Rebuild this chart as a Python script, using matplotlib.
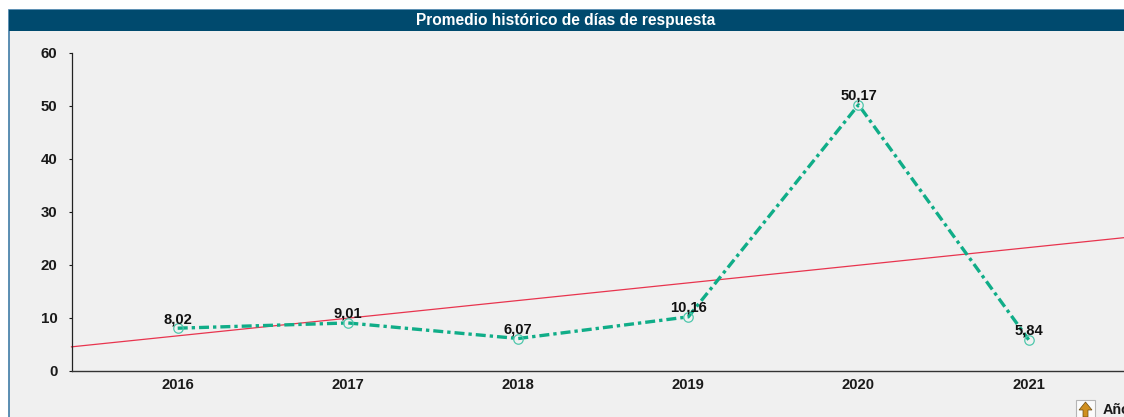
import matplotlib.pyplot as plt
from matplotlib.patches import Rectangle, Polygon

years = [2016, 2017, 2018, 2019, 2020, 2021]
dias = [8.02, 9.01, 6.07, 10.16, 50.17, 5.84]
etiquetas = ['8,02', '9,01', '6,07', '10,16', '50,17', '5,84']
y_ticks = [0, 10, 20, 30, 40, 50, 60]

trend_x = [2015.376, 2021.56]
trend_y = [4.5, 25.1]

W, H = 1124, 417
plt.rcParams['font.family'] = ['Liberation Sans', 'DejaVu Sans']

fig = plt.figure(figsize=(W / 100, H / 100), dpi=100, facecolor='white')


def px_rect(x0, y0, x1, y1, **kw):
    # rectangulo en pixeles de la imagen, y hacia abajo
    fig.patches.append(Rectangle((x0 / W, 1 - y1 / H), (x1 - x0) / W, (y1 - y0) / H,
                                 transform=fig.transFigure, **kw))


# panel y cabecera
px_rect(9, 10, W + 5, H + 5, facecolor='#f0f0f0', edgecolor='#3f7ba6', linewidth=1.2)
px_rect(9, 10, W + 5, 31, facecolor='#004a6e', edgecolor='none')
fig.text(566 / W, 1 - 20.5 / H, 'Promedio histórico de días de respuesta', color='white',
         fontsize=11.2, fontweight='bold', ha='center', va='center')

# ejes: x de 71.5 a 1124, y de 370.7 (0) a 52.7 (60)
ax = fig.add_axes([71.5 / W, 1 - 370.7 / H, (W - 71.5) / W, (370.7 - 52.7) / H])
ax.set_zorder(5)
ax.patch.set_alpha(0)
ax.set_xlim(2015.376, 2021.56)
ax.set_ylim(0, 60)
ax.spines['top'].set_visible(False)
ax.spines['right'].set_visible(False)
ax.spines['left'].set_color('#222222')
ax.spines['bottom'].set_color('#333333')
ax.spines['left'].set_linewidth(0.9)
ax.spines['bottom'].set_linewidth(1.0)

ax.set_xticks(years)
ax.set_yticks(y_ticks)
ax.tick_params(axis='x', length=0, pad=5.5, labelsize=10.6, colors='#1a1a1a')
ax.tick_params(axis='y', length=2.5, width=0.8, pad=7.5, labelsize=10.8, colors='#1a1a1a')
for lab in ax.get_xticklabels() + ax.get_yticklabels():
    lab.set_fontweight('bold')

ax.plot(trend_x, trend_y, color='#e8344e', lw=0.9, zorder=2, clip_on=False)
ax.plot(years, dias, color='#10ad88', lw=2.4, ls=(0, (3, 1.2, 1, 1.2)), zorder=3)
ax.plot(years, dias, ls='none', marker='o', ms=6.8, mfc='none', mec='#4fc7ac', mew=0.9, zorder=4)

for x, y, t in zip(years, dias, etiquetas):
    ax.annotate(t, (x, y), xytext=(0, 1.5), textcoords='offset points', ha='center', va='bottom',
                fontsize=10.6, fontweight='bold', color='#111111', zorder=5)

# boton con flecha abajo a la derecha
px_rect(1076, 400, 1095, H + 5, facecolor='#fbfbfb', edgecolor='#b5b5b5', linewidth=0.8)
flecha = [(1085.5, 402), (1092, 410), (1088, 410), (1088, 417), (1083, 417), (1083, 410), (1079, 410)]
fig.patches.append(Polygon([(x / W, 1 - y / H) for x, y in flecha], transform=fig.transFigure,
                           facecolor='#d08f1e', edgecolor='#6b4a10', linewidth=0.5))
fig.text(1103 / W, 1 - 409.5 / H, 'Año', fontsize=10.4, fontweight='bold', color='#1a1a1a',
         ha='left', va='center')

fig.savefig('out.png', dpi=100, facecolor='white')
